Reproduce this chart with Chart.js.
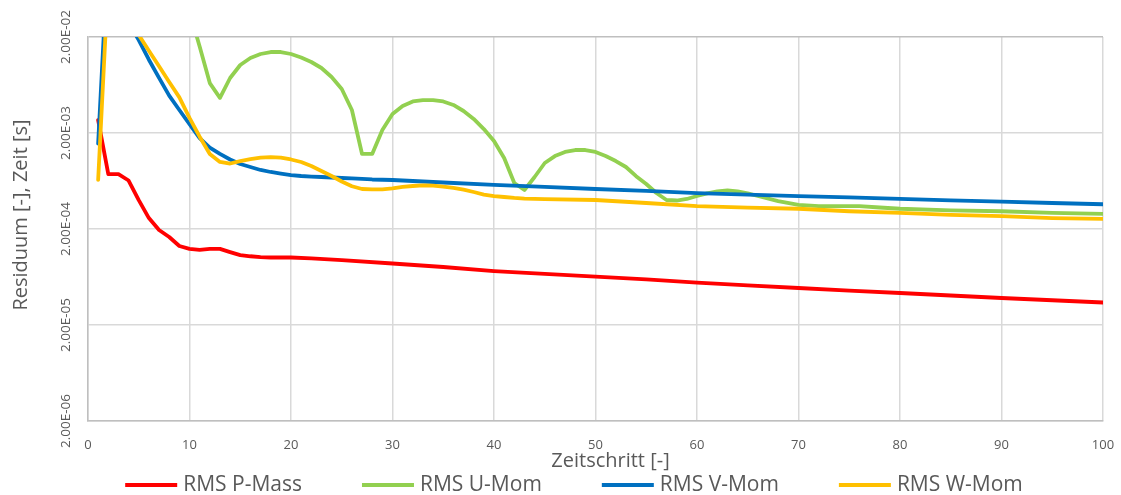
<!DOCTYPE html>
<html>
<head>
<meta charset="utf-8">
<title>Residuen</title>
<script src="https://cdn.jsdelivr.net/npm/chart.js@4.4.1/dist/chart.umd.min.js"></script>
<style>
  html, body { margin: 0; padding: 0; background: #fff; overflow: hidden; }
  canvas { display: block; }
</style>
</head>
<body>
<canvas id="chart-residuen" width="1121" height="495"></canvas>
<script>
// values (log scale), one array per series
const pSteps = [1,2,3,4,5,6,7,8,9,10,11,12,13,14,15,16,17,18,19,20,22,25,30,35,40,45,50,55,60,65,70,75,80,85,90,95,100]
const pMass = [2.73e-3,7.45e-4,7.45e-4,6.4e-4,4.0e-4,2.6e-4,1.95e-4,1.65e-4,1.33e-4,1.24e-4,1.21e-4,1.24e-4,1.24e-4,1.15e-4,1.07e-4,1.04e-4,1.02e-4,1.01e-4,1.01e-4,1.01e-4,
  9.9e-5,9.5e-5,8.74e-5,8.04e-5,7.3e-5,6.8e-5,6.37e-5,5.96e-5,5.54e-5,5.18e-5,4.86e-5,4.57e-5,4.31e-5,4.06e-5,3.82e-5,3.62e-5,3.43e-5]

const uSteps = [1,2,3,4,5,6,7,8,9,10,11,12,13,14,15,16,17,18,19,20,21,22,23,24,25,26,27,28,29,30,31,32,33,34,35,36,37,38,39,40,
  41,42,43,44,45,46,47,48,49,50,51,52,53,54,55,56,57,58,59,60,61,62,63,64,65,66,68,70,72,74,76,78,80,85,90,95,100]
const uMom = [0.05,0.12,0.15,0.14,0.12,0.1,0.08,0.065,0.05,0.037,0.0159,0.00662,0.00465,0.00748,0.01022,0.01209,0.0133,0.01395,0.01395,0.0133,
  0.01224,0.01098,0.00951,0.00766,0.00575,0.00347,0.00121,0.00121,0.00215,0.00315,0.00382,0.00426,0.00441,0.00441,0.00426,0.00392,0.00339,0.0028,0.0022,0.00165,
  0.0011,0.000603,0.00051,0.000696,0.000974,0.00115,0.00127,0.00133,0.00133,0.00127,0.00115,0.00102,0.000885,0.00071,0.000589,0.000474,0.000401,0.000396,0.000411,0.000441,
  0.000469,0.000492,0.000504,0.000492,0.000469,0.000441,0.000391,0.000356,0.000347,0.000347,0.000347,0.000335,0.000325,0.000312,0.000306,0.000294,0.000288]

const vSteps = [1,2,3,4,5,6,7,8,9,10,11,12,13,14,15,16,17,18,19,20,21,22,23,24,25,26,27,28,29,30,35,40,45,50,55,60,65,70,75,80,85,90,95,100]
const vMom = [1.55e-3,0.17,0.08,0.028,0.0186,0.0116,0.0075,0.0049,0.00347,0.00248,0.00177,0.00141,0.00121,0.00106,0.00095,0.000885,0.000824,0.000785,0.000757,0.00073,
  0.000713,0.000704,0.000696,0.000688,0.00068,0.000672,0.000664,0.000656,0.000652,0.000648,
  0.00061,0.000575,0.000548,0.000522,0.000498,0.000474,0.000457,0.000441,0.000426,0.000411,0.000398,0.000385,0.000373,0.000362]

const wSteps = [1,2,3,4,5,6,7,8,9,10,11,12,13,14,15,16,17,18,19,20,21,22,23,24,25,26,27,28,29,30,31,32,33,34,35,36,37,38,39,40,
  41,42,43,44,45,50,55,60,65,70,75,80,85,90,95,100]
const wMom = [6.5e-4,0.081,0.07,0.04,0.021,0.0144,0.0099,0.0068,0.0047,0.00288,0.00183,0.00121,0.000998,0.000962,0.00102,0.00107,0.00111,0.00112,0.00111,0.00106,
  0.000998,0.000906,0.000804,0.000713,0.000625,0.000558,0.000522,0.000518,0.000518,0.000531,0.000548,0.000561,0.00057,0.000565,0.000554,0.000535,0.000514,0.000486,0.000457,0.000441,
  0.000431,0.000421,0.000414,0.000411,0.000409,0.000401,0.000373,0.000347,0.000334,0.000325,0.000306,0.000295,0.00028,0.000272,0.00026,0.000255]

const yTickValues = [2e-6, 2e-5, 2e-4, 2e-3, 2e-2]
const yTickLabels = ["2.00E-06", "2.00E-05", "2.00E-04", "2.00E-03", "2.00E-02"]
const xTickValues = [0, 10, 20, 30, 40, 50, 60, 70, 80, 90, 100]

const xTitle = "Zeitschritt [-]"
const yTitle = "Residuum [-], Zeit [s]"
const textColor = "#595959"
const FONT = "'Open Sans', 'Noto Sans', sans-serif"

const toPoints = (steps, vals) => steps.map((s, i) => ({ x: s, y: vals[i] }))

function series(label, steps, vals, color, order) {
  return {
    label,
    data: toPoints(steps, vals),
    borderColor: color,
    backgroundColor: color,
    borderWidth: 3.8,
    pointRadius: 0,
    tension: 0,
    borderJoinStyle: "round",
    borderCapStyle: "round",
    order
  }
}

// titles + legend placed the way Excel put them
const chartText = {
  id: "chartText",
  afterDraw(chart) {
    const { ctx, chartArea: a } = chart
    ctx.save()
    ctx.fillStyle = textColor
    ctx.font = "20px " + FONT
    ctx.textAlign = "center"
    ctx.textBaseline = "middle"
    ctx.fillText(xTitle, (a.left + a.right) / 2 + 15, a.bottom + 40)

    ctx.save()
    ctx.translate(21, (a.top + a.bottom) / 2 - 14)
    ctx.rotate(-Math.PI / 2)
    ctx.fillText(yTitle, 0, 0)
    ctx.restore()

    // legend row
    ctx.font = "21px " + FONT
    const boxW = 52, gap = 6, spacing = 60, legendY = 485
    const items = chart.data.datasets.map(d => ({ text: d.label, color: d.borderColor, w: ctx.measureText(d.label).width }))
    const total = items.reduce((s, it) => s + boxW + gap + it.w, 0) + spacing * (items.length - 1)
    let x = 574 - total / 2
    ctx.textAlign = "left"
    items.forEach(it => {
      ctx.fillStyle = it.color
      ctx.fillRect(x, legendY - 2, boxW, 4)
      ctx.fillStyle = textColor
      ctx.fillText(it.text, x + boxW + gap, legendY)
      x += boxW + gap + it.w + spacing
    })
    ctx.restore()
  }
}

new Chart(document.getElementById("chart-residuen"), {
  type: "line",
  data: {
    datasets: [
      series("RMS P-Mass", pSteps, pMass, "#ff0000", 4),
      series("RMS U-Mom", uSteps, uMom, "#92d050", 3),
      series("RMS V-Mom", vSteps, vMom, "#0070c0", 2),
      series("RMS W-Mom", wSteps, wMom, "#ffc000", 1)
    ]
  },
  options: {
    responsive: false,
    animation: false,
    events: [],
    layout: { padding: { left: 0, top: 37, right: 18, bottom: 0 } },
    plugins: { legend: { display: false }, tooltip: { enabled: false } },
    scales: {
      x: {
        type: "linear",
        min: 0,
        max: 100,
        afterBuildTicks: s => { s.ticks = xTickValues.map(v => ({ value: v })) },
        afterFit: s => { s.height = 74; s.paddingLeft = 0; s.paddingRight = 0 },
        grid: { color: "#d9d9d9", lineWidth: 1.5, drawTicks: false },
        border: { color: "#bfbfbf", width: 1.5 },
        ticks: { color: textColor, font: { family: FONT, size: 13 }, padding: 16 }
      },
      y: {
        type: "logarithmic",
        min: 2e-6,
        max: 2e-2,
        afterBuildTicks: s => { s.ticks = yTickValues.map(v => ({ value: v })) },
        afterFit: s => { s.width = 88; s.paddingTop = 0; s.paddingBottom = 0 },
        grid: {
          color: c => c.index === yTickValues.length - 1 ? "#bfbfbf" : "#d9d9d9",
          lineWidth: 1.5,
          drawTicks: false
        },
        border: { color: "#bfbfbf", width: 1.5 },
        ticks: {
          color: textColor,
          font: { family: FONT, size: 13.5 },
          minRotation: 90,
          maxRotation: 90,
          crossAlign: "center",
          padding: -5,
          callback: (v, i) => yTickLabels[i]
        }
      }
    }
  },
  plugins: [chartText]
})
</script>
</body>
</html>
